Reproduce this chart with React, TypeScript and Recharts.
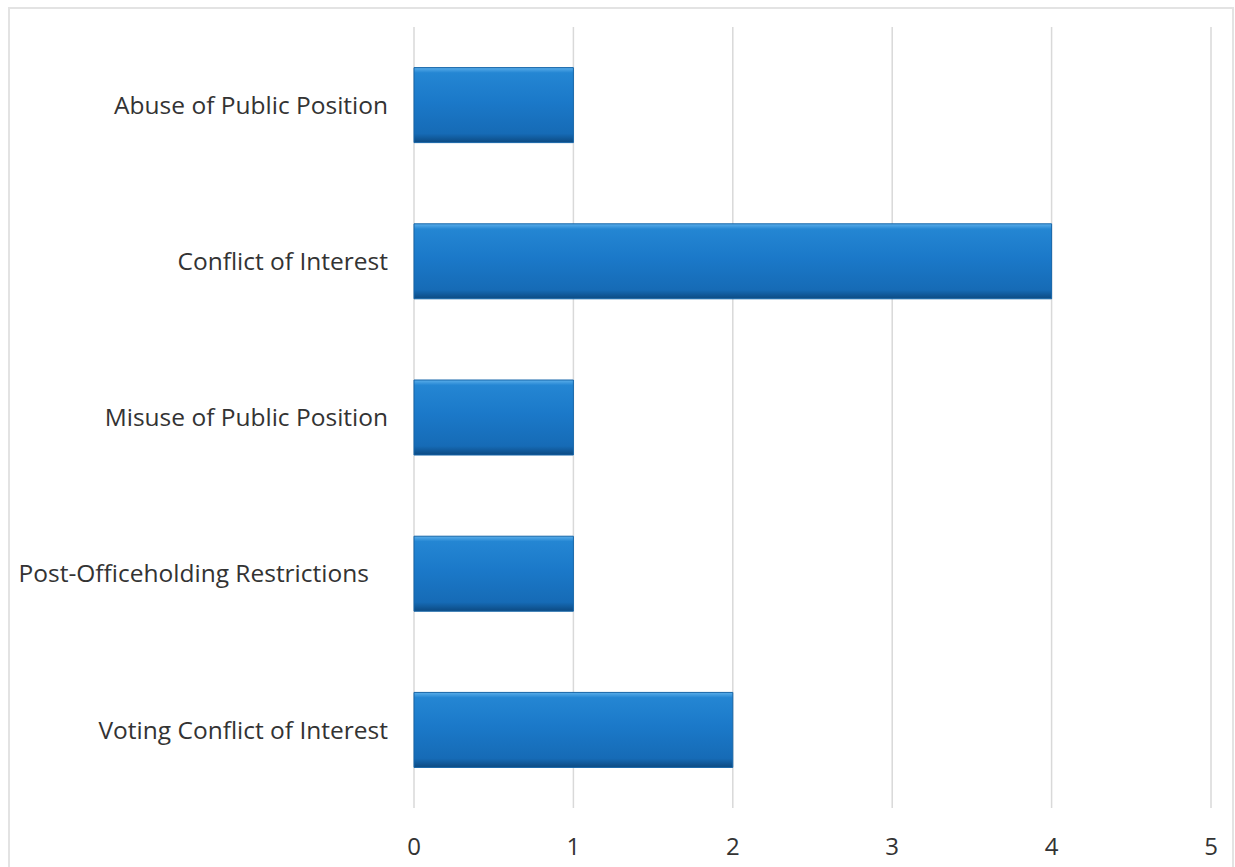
import React from 'react';
import { BarChart, Bar, XAxis, YAxis, CartesianGrid } from 'recharts';

const categories = [
  'Abuse of Public Position',
  'Conflict of Interest',
  'Misuse of Public Position',
  'Post-Officeholding Restrictions\u00A0\u00A0\u00A0',
  'Voting Conflict of Interest',
];
const counts = [1, 4, 1, 1, 2];
const xTicks = [0, 1, 2, 3, 4, 5];

const data = categories.map((name, i) => ({ name, value: counts[i] }));

const font = "'Open Sans', 'Noto Sans', sans-serif";

export default function App() {
  return (
    <div
      style={{
        position: 'absolute',
        left: 8,
        top: 7,
        width: 1226,
        height: 870,
        border: '2px solid #e3e3e3',
        borderBottom: 'none',
        boxSizing: 'border-box',
        background: '#fff',
      }}
    >
      <BarChart
        width={1222}
        height={858}
        data={data}
        layout="vertical"
        margin={{ top: 18, right: 21, bottom: 0, left: 0 }}
        barCategoryGap="26%"
      >
        <defs>
          <linearGradient id="barFill" x1="0" y1="0" x2="0" y2="1">
            <stop offset="0%" stopColor="#5aaeea" />
            <stop offset="7%" stopColor="#2486d3" />
            <stop offset="45%" stopColor="#1b79c9" />
            <stop offset="88%" stopColor="#166bb6" />
            <stop offset="100%" stopColor="#0c4a82" />
          </linearGradient>
        </defs>
        <CartesianGrid horizontal={false} stroke="#d9d9d9" strokeWidth={1.5} />
        <XAxis
          type="number"
          domain={[0, 5]}
          ticks={xTicks}
          axisLine={false}
          tickLine={false}
          height={59}
          tick={{ fill: '#333333', fontSize: 24, fontFamily: font, dy: 22 }}
        />
        <YAxis
          type="category"
          dataKey="name"
          width={404}
          axisLine={false}
          tickLine={false}
          tick={{ fill: '#333333', fontSize: 24.5, fontFamily: font, dx: -18 }}
        />
        <Bar
          dataKey="value"
          fill="url(#barFill)"
          stroke="#1565a8"
          strokeWidth={1}
          isAnimationActive={false}
        />
      </BarChart>
    </div>
  );
}
